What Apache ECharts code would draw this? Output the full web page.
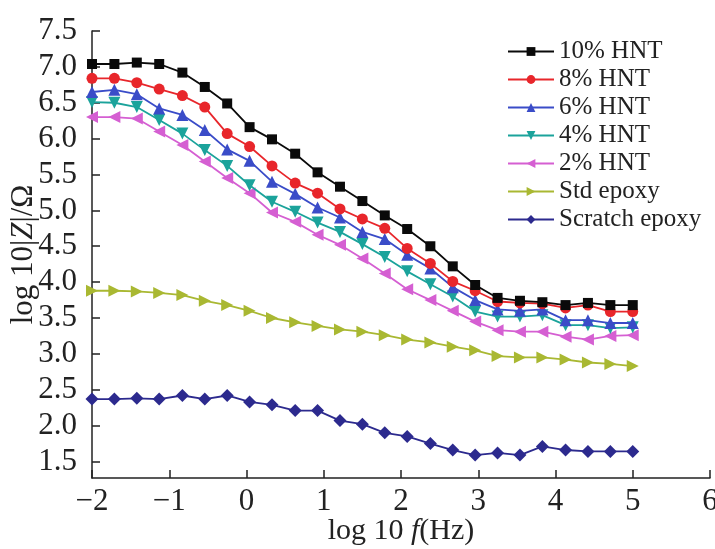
<!DOCTYPE html>
<html>
<head>
<meta charset="utf-8">
<script src="https://cdn.jsdelivr.net/npm/echarts@6/dist/echarts.min.js"></script>
<style>html,body{margin:0;padding:0;background:#fff;}#c{width:715px;height:549px;}</style>
</head>
<body>
<div id="c"></div>
<script>
const logF = [-2, -1.71, -1.42, -1.13, -0.83, -0.54, -0.25, 0.04, 0.33, 0.63, 0.92, 1.21, 1.5, 1.79, 2.08, 2.38, 2.67, 2.96, 3.25, 3.54, 3.83, 4.13, 4.42, 4.71, 5.0];
const hnt10 = [7.04, 7.04, 7.06, 7.04, 6.92, 6.72, 6.49, 6.16, 5.99, 5.79, 5.53, 5.33, 5.13, 4.93, 4.74, 4.50, 4.22, 3.96, 3.78, 3.74, 3.72, 3.68, 3.71, 3.68, 3.68];
const hnt8 = [6.84, 6.84, 6.78, 6.69, 6.60, 6.44, 6.07, 5.89, 5.62, 5.38, 5.24, 5.02, 4.88, 4.75, 4.47, 4.26, 4.01, 3.88, 3.73, 3.71, 3.70, 3.64, 3.68, 3.59, 3.59];
const hnt6 = [6.65, 6.68, 6.62, 6.42, 6.33, 6.12, 5.85, 5.69, 5.40, 5.23, 5.04, 4.90, 4.70, 4.60, 4.38, 4.19, 3.93, 3.75, 3.62, 3.60, 3.62, 3.47, 3.47, 3.43, 3.43];
const hnt4 = [6.51, 6.50, 6.44, 6.26, 6.07, 5.84, 5.62, 5.35, 5.12, 4.98, 4.83, 4.70, 4.53, 4.35, 4.15, 3.97, 3.80, 3.59, 3.52, 3.52, 3.54, 3.40, 3.40, 3.36, 3.37];
const hnt2 = [6.30, 6.30, 6.28, 6.10, 5.91, 5.68, 5.45, 5.24, 4.97, 4.84, 4.66, 4.52, 4.33, 4.12, 3.90, 3.75, 3.60, 3.45, 3.33, 3.31, 3.31, 3.24, 3.20, 3.25, 3.26];
const stdEpoxy = [3.88, 3.88, 3.87, 3.85, 3.82, 3.74, 3.68, 3.60, 3.50, 3.44, 3.39, 3.34, 3.31, 3.26, 3.20, 3.16, 3.10, 3.05, 2.97, 2.95, 2.95, 2.92, 2.88, 2.86, 2.83];
const scratchEpoxy = [2.37, 2.37, 2.38, 2.37, 2.42, 2.37, 2.42, 2.33, 2.29, 2.21, 2.21, 2.07, 2.02, 1.90, 1.85, 1.75, 1.66, 1.59, 1.62, 1.59, 1.71, 1.66, 1.64, 1.64, 1.64];
const yTicks = [1.5, 2.0, 2.5, 3.0, 3.5, 4.0, 4.5, 5.0, 5.5, 6.0, 6.5, 7.0, 7.5];
const seriesNames = ['10% HNT', '8% HNT', '6% HNT', '4% HNT', '2% HNT', 'Std epoxy', 'Scratch epoxy'];

const FONT = '"Liberation Serif", "DejaVu Serif", serif';
const styles = [
  {color: '#0a0a0a', symbol: 'rect', size: 10},
  {color: '#e8262b', symbol: 'circle', size: 11},
  {color: '#3a4cc8', symbol: 'triangle', size: 12},
  {color: '#1ba39b', symbol: 'path://M0,0 L10,0 L5,9 Z', size: 12},
  {color: '#d55fd2', symbol: 'path://M9,0 L9,10 L0,5 Z', size: 12},
  {color: '#a9b832', symbol: 'path://M0,0 L0,10 L9,5 Z', size: 12},
  {color: '#2c2a8e', symbol: 'diamond', size: 13}
];
const values = [hnt10, hnt8, hnt6, hnt4, hnt2, stdEpoxy, scratchEpoxy];

const series = values.map((vals, i) => ({
  name: seriesNames[i],
  type: 'line',
  data: vals.map((v, j) => [logF[j], v]),
  symbol: styles[i].symbol,
  symbolSize: styles[i].size,
  showAllSymbol: true,
  clip: false,
  lineStyle: {color: styles[i].color, width: 1.8},
  itemStyle: {color: styles[i].color},
  emphasis: {disabled: true},
  z: 10 - i
}));

const chart = echarts.init(document.getElementById('c'), null, {renderer: 'canvas'});
chart.setOption({
  animation: false,
  backgroundColor: '#fff',
  grid: {left: 92, right: 5, top: 31, bottom: 71, containLabel: false, outerBoundsMode: 'none'},
  legend: {
    orient: 'vertical',
    left: 502,
    top: 34,
    itemWidth: 46,
    itemHeight: 11,
    itemGap: 3,
    data: seriesNames,
    textStyle: {fontFamily: FONT, fontSize: 25, color: '#222'}
  },
  xAxis: {
    type: 'value',
    min: -2, max: 6, interval: 1,
    axisLine: {show: true, onZero: false, lineStyle: {color: '#222', width: 1.5}},
    axisTick: {show: true, inside: true, length: 8, lineStyle: {color: '#222', width: 1.5}},
    splitLine: {show: false},
    axisLabel: {
      fontFamily: FONT, fontSize: 31, color: '#222', margin: 8,
      formatter: v => String(v).replace('-', '\u2212')
    },
    name: '{a|log 10 }{i|f}{a|(Hz)}',
    nameLocation: 'middle',
    nameGap: 38,
    nameMoveOverlap: false,
    nameTextStyle: {
      rich: {
        a: {fontFamily: FONT, fontSize: 30, color: '#222', lineHeight: 30},
        i: {fontFamily: FONT, fontSize: 30, color: '#222', fontStyle: 'italic', lineHeight: 30}
      }
    }
  },
  yAxis: {
    type: 'value',
    min: 1.27, max: 7.5,
    axisLine: {show: true, onZero: false, lineStyle: {color: '#222', width: 1.5}},
    axisTick: {show: true, inside: true, length: 8, customValues: yTicks, lineStyle: {color: '#222', width: 1.5}},
    splitLine: {show: false},
    axisLabel: {
      fontFamily: FONT, fontSize: 31, color: '#222', margin: 15,
      customValues: yTicks,
      formatter: v => v.toFixed(1)
    },
    name: '{a|log 10|}{i|Z}{a||/Ω}',
    nameLocation: 'middle',
    nameGap: 53,
    nameMoveOverlap: false,
    nameTextStyle: {
      rich: {
        a: {fontFamily: FONT, fontSize: 31, color: '#222', lineHeight: 31},
        i: {fontFamily: FONT, fontSize: 31, color: '#222', fontStyle: 'italic', lineHeight: 31}
      }
    }
  },
  series: series
});
</script>
</body>
</html>
